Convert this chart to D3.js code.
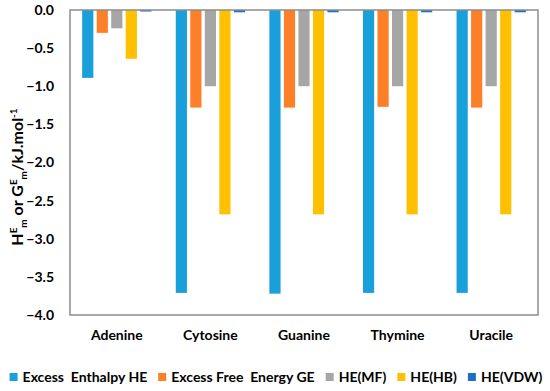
<!DOCTYPE html>
<html>
<head>
<meta charset="utf-8">
<script src="https://cdn.jsdelivr.net/npm/d3@7"></script>
<style>
  body { margin: 0; background: #fff; }
  svg text { font-family: Lato, "Open Sans", sans-serif; font-weight: bold; fill: #000; }
</style>
</head>
<body>
<div id="chart"></div>
<script>
// dati
let bases = ["Adenine", "Cytosine", "Guanine", "Thymine", "Uracile"];
let seriesNames = ["Excess  Enthalpy HE", "Excess Free  Energy GE", "HE(MF)", "HE(HB)", "HE(VDW)"];
let enthalpyHE = [-0.89, -3.71, -3.72, -3.71, -3.71];
let freeEnergyGE = [-0.30, -1.28, -1.28, -1.27, -1.28];
let heMF = [-0.24, -1.00, -1.00, -1.00, -1.00];
let heHB = [-0.64, -2.68, -2.68, -2.68, -2.68];
let heVDW = [-0.01, -0.03, -0.03, -0.03, -0.03];
let yTicks = [0, -0.5, -1, -1.5, -2, -2.5, -3, -3.5, -4];

let seriesColors = ["#199fd9", "#fd7f28", "#a6a6a6", "#ffc000", "#1f6fc6"];

let width = 550, height = 391;
let margin = {top: 10, right: 12, bottom: 76, left: 70};

let svg = d3.select("#chart").append("svg")
  .attr("width", width)
  .attr("height", height);

let allSeries = [enthalpyHE, freeEnergyGE, heMF, heHB, heVDW];

let x = d3.scaleBand()
  .domain(bases)
  .range([margin.left, width - margin.right])
  .paddingInner(0.26)
  .paddingOuter(0.13);

let xInner = d3.scaleBand()
  .domain(d3.range(seriesNames.length))
  .range([0, x.bandwidth()])
  .paddingInner(0.23);

let y = d3.scaleLinear()
  .domain([-4, 0])
  .range([height - margin.bottom, margin.top]);

// assi
let yAxis = d3.axisLeft(y)
  .tickValues(yTicks)
  .tickFormat(d3.format(".1f"))
  .tickSize(0)
  .tickPadding(16);

let gy = svg.append("g")
  .attr("transform", "translate(" + margin.left + ",0)")
  .call(yAxis);
gy.select(".domain").remove();
gy.selectAll("text").style("font-size", "14px");

// barre
bases.forEach(function(b, i) {
  let grp = svg.append("g")
    .attr("transform", "translate(" + x(b) + ",0)");
  allSeries.forEach(function(s, k) {
    grp.append("rect")
      .attr("x", xInner(k))
      .attr("y", y(0))
      .attr("width", xInner.bandwidth())
      .attr("height", Math.max(1.5, y(s[i]) - y(0)))
      .attr("fill", seriesColors[k]);
  });
});

// bordo area grafico
svg.append("rect")
  .attr("x", margin.left)
  .attr("y", margin.top)
  .attr("width", width - margin.left - margin.right)
  .attr("height", height - margin.top - margin.bottom)
  .attr("fill", "none")
  .attr("stroke", "#8c8c8c")
  .attr("stroke-width", 1.5);

// etichette categorie
svg.append("g").selectAll("text")
  .data(bases)
  .enter()
  .append("text")
  .attr("x", d => x(d) + x.bandwidth() / 2)
  .attr("y", 340)
  .attr("text-anchor", "middle")
  .style("font-size", "14px")
  .text(d => d);

// titolo asse y
let yLabel = svg.append("text")
  .attr("transform", "translate(23,177) rotate(-90)")
  .attr("text-anchor", "middle")
  .style("font-size", "16px");
yLabel.append("tspan").text("H");
yLabel.append("tspan").attr("dy", -6).style("font-size", "10px").text("E");
yLabel.append("tspan").attr("dy", 10).style("font-size", "10px").text("m");
yLabel.append("tspan").attr("dy", -4).text(" or G");
yLabel.append("tspan").attr("dy", -6).style("font-size", "10px").text("E");
yLabel.append("tspan").attr("dy", 10).style("font-size", "10px").text("m");
yLabel.append("tspan").attr("dy", -4).text("/kJ.mol");
yLabel.append("tspan").attr("dy", -6).style("font-size", "10px").text("-1");

// legenda
let legend = svg.append("g");
let items = legend.selectAll("g")
  .data(seriesNames)
  .enter()
  .append("g");

items.append("rect")
  .attr("width", 8)
  .attr("height", 8)
  .attr("y", -9)
  .attr("fill", (d, i) => seriesColors[i]);

items.append("text")
  .attr("x", 13)
  .style("font-size", "14px")
  .style("white-space", "pre")
  .attr("xml:space", "preserve")
  .text(d => d);

let xpos = 0, gap = 11;
items.each(function() {
  let w = d3.select(this).select("text").node().getComputedTextLength() + 13;
  d3.select(this).attr("transform", "translate(" + xpos + ",0)");
  xpos += w + gap;
});
xpos -= gap;
legend.attr("transform", "translate(" + ((width - xpos) / 2 + 1) + ",382)");
</script>
</body>
</html>
